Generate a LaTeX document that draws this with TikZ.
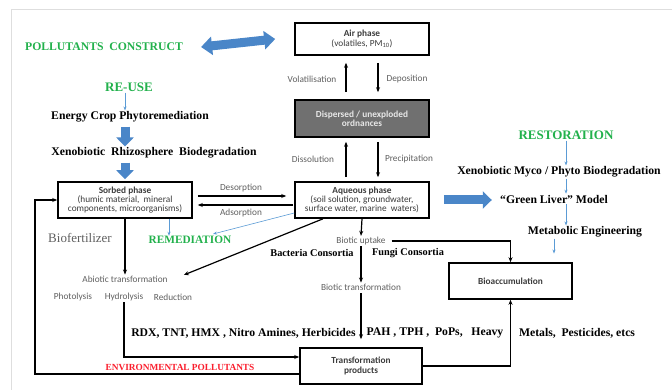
\documentclass[tikz,border=0pt]{standalone}
\usepackage{fontspec}
\setmainfont{Liberation Serif}
\newfontfamily\lblfont{Carlito}
\usetikzlibrary{arrows.meta,calc}
\definecolor{ggreen}{RGB}{34,177,76}
\definecolor{rred}{RGB}{250,30,45}
\definecolor{bblue}{RGB}{74,134,200}
\definecolor{lblue}{RGB}{91,155,213}
\definecolor{dgray}{RGB}{112,112,112}
\definecolor{dtext}{RGB}{232,232,232}
\definecolor{boxtext}{RGB}{60,60,60}
\definecolor{lblgray}{RGB}{95,95,95}
\definecolor{framegray}{RGB}{222,222,222}
\newcommand\boxfont{\lblfont\fontsize{9.3}{9.3}\selectfont}
\begin{document}
\begin{tikzpicture}[x=1pt,y=-1pt,
  box/.style={draw=black, line width=1.6pt, fill=white, minimum width=134pt,
    minimum height=36pt, inner sep=1pt, align=center, font=\boxfont, text=boxtext},
  lbl/.style={font=\lblfont\fontsize{9.3}{11}\selectfont, text=lblgray, inner sep=1pt},
  bt/.style={font=\bfseries\fontsize{11.7}{14}\selectfont, inner sep=1pt},
  gt/.style={font=\bfseries\fontsize{11.7}{14}\selectfont, text=ggreen, inner sep=1pt},
  arr/.style={-{Stealth[length=5pt,width=4pt]}, line width=1.2pt},
  lb/.style={-{Stealth[length=4pt,width=3pt]}, draw=lblue, line width=0.6pt},
  blk/.style={draw=bblue, line width=9pt, -{Triangle[length=9pt,width=17pt]}},
  dbl/.style={draw=bblue, line width=9pt,
    {Triangle[length=11pt,width=18pt]}-{Triangle[length=11pt,width=18pt]}}]
\useasboundingbox (0,0) rectangle (672,390);
% page frame
\draw[framegray, line width=0.6pt] (11,390) -- (11,9) -- (672,9);

% phase boxes
\node[box, minimum height=32pt] (air) at (362,39) {\textbf{Air phase}\\(volatiles, PM\textsubscript{10})};
\node[box, fill=dgray, text=dtext, minimum height=37pt] (disp) at (362,118.5) {\textbf{Dispersed / unexploded}\\\textbf{ordnances}};
\node[box] (aq) at (362,200) {\textbf{Aqueous phase}\\(soil solution, groundwater,\\surface water, marine\ \ waters)};
\node[box] (sorbed) at (125,200) {\textbf{Sorbed phase}\\(humic material,\ \ mineral\\components, microorganisms)};
\node[box, minimum width=123pt] (bio) at (510.5,281) {\textbf{Bioaccumulation}};
\node[box, minimum width=122pt] (trans) at (361,366) {\textbf{Transformation}\\\textbf{products}};

% process labels
\node[lbl] (vol) at (312,79) {Volatilisation};
\node[lbl] (dep) at (407,79) {Deposition};
\node[lbl] (diss) at (313,159) {Dissolution};
\node[lbl] (prec) at (409,159) {Precipitation};
\node[lbl] (des) at (241,188) {Desorption};
\node[lbl] (ads) at (241,213) {Adsorption};
\node[lbl] (abio) at (125,279) {Abiotic transformation};
\node[lbl] (pho) at (73,297) {Photolysis};
\node[lbl] (hyd) at (124,297) {Hydrolysis};
\node[lbl] (red) at (173,297) {Reduction};
\node[lbl] (bu) at (361,241) {Biotic uptake};
\node[lbl] (btr) at (361,287) {Biotic transformation};

% strategy texts
\node[gt] (pc) at (104,47) {POLLUTANTS\ \ CONSTRUCT};
\node[gt, font=\bfseries\fontsize{13}{15}\selectfont] (reuse) at (129,87) {RE-USE};
\node[gt, font=\bfseries\fontsize{13}{15}\selectfont] (rest) at (566,135) {RESTORATION};
\node[gt, font=\bfseries\fontsize{11.3}{14}\selectfont] (rem) at (190,240) {REMEDIATION};
\node[bt] (ecp) at (130,117) {Energy Crop Phytoremediation};
\node[bt] (xrb) at (154,153) {Xenobiotic\ \ Rhizosphere\ \ Biodegradation};
\node[bt] (xmp) at (559,172) {Xenobiotic Myco / Phyto Biodegradation};
\node[bt] (gl) at (554,199) {“Green Liver” Model};
\node[bt] (me) at (585,232) {Metabolic Engineering};
\node[font=\fontsize{13}{15}\selectfont, text=lblgray, inner sep=1pt] (bf) at (80,238) {Biofertilizer};
\node[bt, font=\bfseries\fontsize{10.3}{12}\selectfont] (bac) at (312,253) {Bacteria Consortia};
\node[bt, font=\bfseries\fontsize{10.3}{12}\selectfont] (fun) at (408,253) {Fungi Consortia};
\node[bt] (l1) at (243.5,333) {RDX, TNT, HMX , Nitro Amines, Herbicides};
\node[bt] (l2) at (435,333) {PAH , TPH ,\ \ PoPs,\ \ \ Heavy};
\node[bt] (l3) at (577,333) {Metals,\ \ Pesticides, etcs};
\node[font=\bfseries\fontsize{9.3}{11}\selectfont, text=rred, inner sep=1pt] (env) at (180,367) {ENVIRONMENTAL POLLUTANTS};

% exchanges between phases
\draw[arr, shorten <=7pt, shorten >=7pt] ([xshift=-16pt]disp.north) -- ([xshift=-16pt]air.south);
\draw[arr, shorten <=7pt, shorten >=7pt] ([xshift=16pt]air.south) -- ([xshift=16pt]disp.north);
\draw[arr, shorten <=4pt, shorten >=4pt] ([xshift=-16pt]aq.north) -- ([xshift=-16pt]disp.south);
\draw[arr, shorten <=4pt, shorten >=4pt] ([xshift=16pt]disp.south) -- ([xshift=16pt]aq.north);
\draw[arr, shorten <=5pt, shorten >=8pt] ([yshift=4pt]sorbed.east) -- ([yshift=4pt]aq.west);
\draw[arr, shorten <=1pt, shorten >=5pt] ([yshift=-5pt]aq.west) -- ([yshift=-5pt]sorbed.east);

% abiotic branch
\draw[arr] ([xshift=-39pt]aq.south) -- ([xshift=15pt,yshift=4pt]abio.east);
\draw[arr] (sorbed.south) -- (abio.north);
\draw[arr] (hyd.south) |- ([yshift=9pt]trans.west);
\coordinate (fb) at (35,200);
\draw[arr] ([yshift=-8pt]trans.west) -| (fb) -- (sorbed.west);

% biotic branch
\draw[arr] (aq.south) -- (bu.north);
\draw[arr, shorten <=5pt] (bu.east) -| (bio.north);
\draw[arr] (bu.south) -- (btr.north);
\draw[arr, shorten <=2pt, shorten >=8pt] (btr.south) -- (trans.north);
\draw[arr] (trans.east) -| (bio.south);

% remediation pointers
\draw[lb] ([yshift=-13pt]aq.west) -- ([xshift=23pt,yshift=1pt]rem.north);
\draw[lb] ([xshift=44pt]sorbed.south) -- ++(0,17);

% block arrows
\draw[dbl] ([xshift=17pt]pc.east) -- ([xshift=-19pt]air.west);
\draw[blk, shorten <=3pt] ([xshift=-5pt]ecp.south) -- ([xshift=-5pt]ecp.south |- xrb.north);
\draw[blk, shorten <=3pt, shorten >=2pt] (xrb.south -| sorbed.north) -- (sorbed.north);
\draw[blk] ([xshift=14pt]aq.east) -- ++(48,0);

% strategy chains
\draw[lb] ([xshift=-4pt]reuse.south) -- ([xshift=-4pt]reuse.south |- ecp.north);
\draw[lb] (rest.south) -- (rest.south |- xmp.north);
\draw[lb] (rest.south |- xmp.south) -- (rest.south |- gl.north);
\draw[lb] (rest.south |- gl.south) -- (rest.south |- me.north);
\draw[lb] ([xshift=-31pt]me.south) -- ++(0,15);
\end{tikzpicture}
\end{document}
